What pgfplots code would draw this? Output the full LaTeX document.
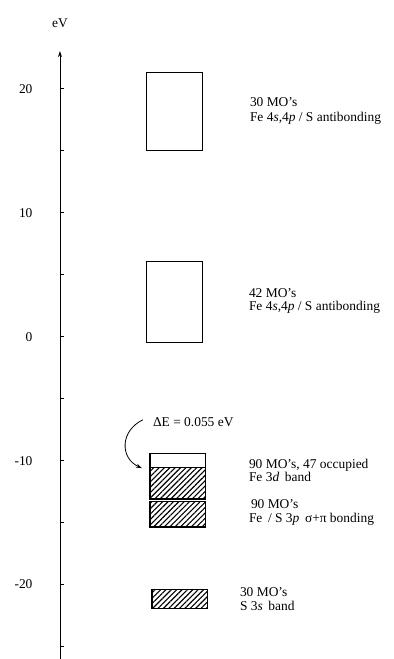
\documentclass[border=0pt]{standalone}
\usepackage{fontspec}
\setmainfont{Liberation Serif}
\usepackage{pgfplots}
\pgfplotsset{compat=1.18}
\usetikzlibrary{arrows.meta,patterns.meta}
\begin{document}
\begin{tikzpicture}
\begin{axis}[
  scale only axis,
  width=334bp, height=608bp,
  xmin=0, xmax=334,
  ymin=-25.97, ymax=23.06,
  axis x line=none,
  axis y line=left,
  y axis line style={line width=0.9bp,-{Stealth[length=6bp,width=4bp]}},
  ytick={-20,-10,0,10,20},
  yticklabels={-20,-10,0,10,20},
  major tick length=0pt, minor tick length=0pt,
  ytick style={draw=none},
  yticklabel style={font=\fontsize{13.5}{15}\selectfont, anchor=east, xshift=-24bp},
  every axis y label/.style={at={(rel axis cs:0,1.046)},anchor=center,font=\fontsize{13.5}{15}\selectfont},
  ylabel={eV},
  clip=false,
]
% tick marks pointing right from the energy axis
\addplot[xcomb, black, line width=0.9bp, mark=none] coordinates {(4.5,-25) (4.5,-20) (4.5,-15) (4.5,-10) (4.5,-5) (4.5,0) (4.5,5) (4.5,10) (4.5,15) (4.5,20)};
% open boxes
\addplot[draw=black, line width=1bp, fill=white] coordinates {(87,15.0) (143,15.0) (143,21.3) (87,21.3)} -- cycle;
\addplot[draw=black, line width=1bp, fill=white] coordinates {(87,-0.5) (143,-0.5) (143,6.05) (87,6.05)} -- cycle;
% Fe 3d band
\addplot[draw=black, line width=1.3bp, fill=white] coordinates {(90,-10.55) (146,-10.55) (146,-9.4) (90,-9.4)} -- cycle;
\addplot[draw=black, line width=1.3bp, pattern={Lines[angle=45,distance=3.8bp,line width=1.1bp]}] coordinates {(90,-13.1) (146,-13.1) (146,-10.55) (90,-10.55)} -- cycle;
% Fe/S bonding
\addplot[draw=black, line width=1.3bp, pattern={Lines[angle=45,distance=3.8bp,line width=1.1bp]}] coordinates {(90,-15.35) (146,-15.35) (146,-13.3) (90,-13.3)} -- cycle;
% S 3s
\addplot[draw=black, line width=1.3bp, pattern={Lines[angle=45,distance=3.8bp,line width=1.1bp]}] coordinates {(92,-21.95) (148,-21.95) (148,-20.4) (92,-20.4)} -- cycle;
% curved arrow
\draw[line width=0.8bp,-{Stealth[length=6bp,width=4bp]}] (axis cs:83,-6.7) .. controls (axis cs:60,-7.6) and (axis cs:60,-9.8) .. (axis cs:82,-10.6);
% labels
\begin{scope}[every node/.style={font=\fontsize{13.5}{15}\selectfont, anchor=base west, inner sep=0pt}]
\node at (axis cs:190,18.57) {30 MO's};
\node at (axis cs:190,17.40) {Fe 4\textit{s},4\textit{p} / S antibonding};
\node at (axis cs:189,3.17) {42 MO's};
\node at (axis cs:189,2.10) {Fe 4\textit{s},4\textit{p} / S antibonding};
\node at (axis cs:93,-7.23) {ΔE = 0.055 eV};
\node at (axis cs:189,-10.6) {90 MO's, 47 occupied};
\node at (axis cs:189,-11.7) {Fe 3\textit{d}\, band};
\node at (axis cs:191,-13.85) {90 MO's};
\node at (axis cs:189,-14.95) {Fe\, / S 3\textit{p}\, σ+π bonding};
\node at (axis cs:180,-21.0) {30 MO's};
\node at (axis cs:180,-22.1) {S 3\textit{s}\, band};
\end{scope}
\path (axis cs:-60,-25.97) (rel axis cs:1,1.084);
\end{axis}
\end{tikzpicture}
\end{document}
